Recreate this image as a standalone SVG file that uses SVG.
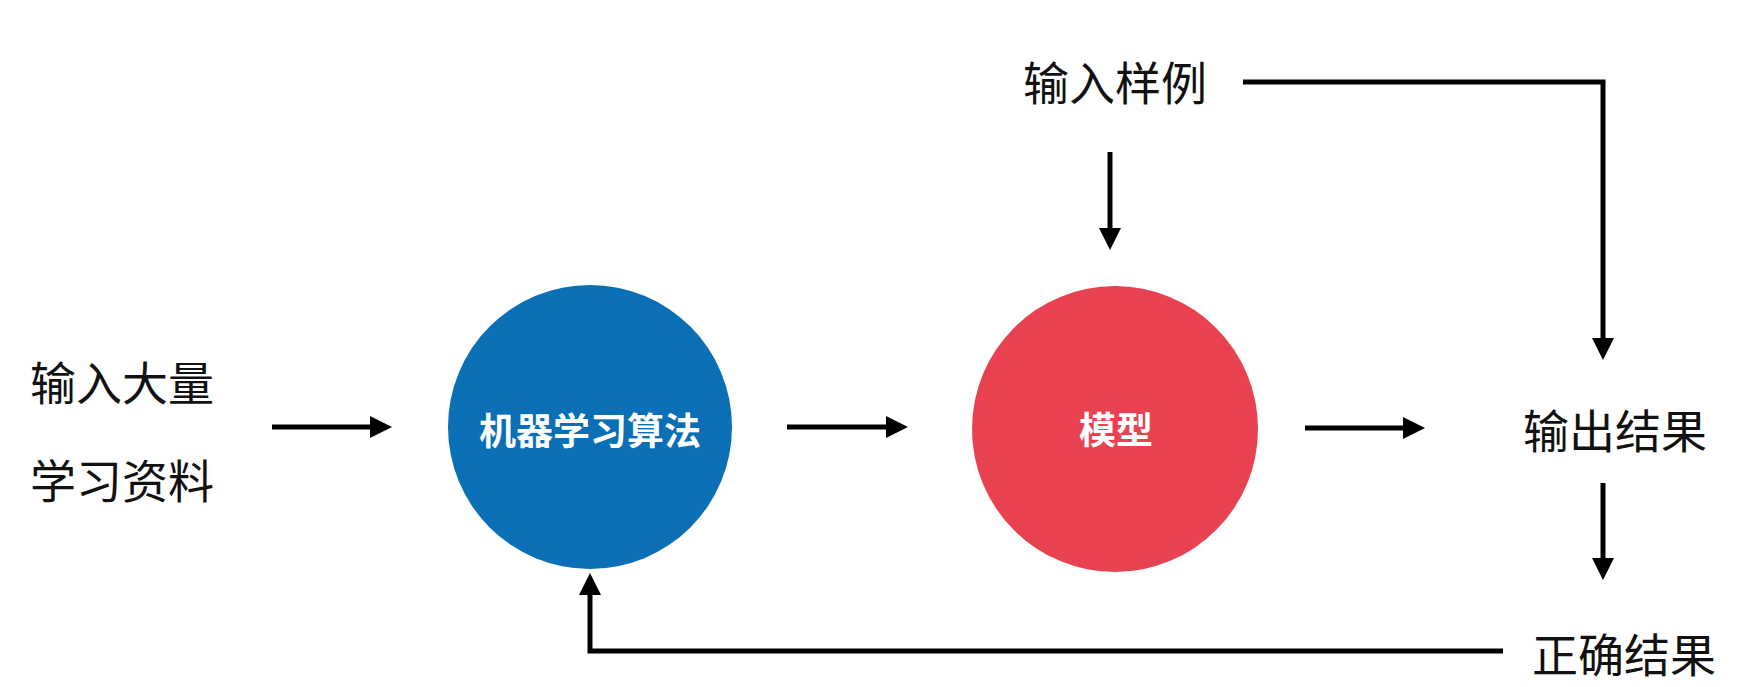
<svg xmlns="http://www.w3.org/2000/svg" width="1757" height="687" viewBox="0 0 1757 687">
<style>
.lbl{font-family:"Noto Sans CJK SC","Noto Sans",sans-serif;font-size:46px;fill:#111;text-anchor:middle;dominant-baseline:central}
.in{font-family:"Noto Sans CJK SC","Noto Sans",sans-serif;font-size:37px;font-weight:bold;fill:#fff;text-anchor:middle;dominant-baseline:central}
.ln{fill:none;stroke:#000;stroke-width:5;marker-end:url(#ah)}
</style>
<defs>
<marker id="ah" markerUnits="userSpaceOnUse" markerWidth="24" markerHeight="24" refX="12" refY="11" orient="auto">
<path d="M0,0 L22,11 L0,22 z" fill="#000"/>
</marker>
</defs>
<rect width="1757" height="687" fill="#fff"/>
<g id="input-data">
<text class="lbl" x="122" y="380">输入大量</text>
<text class="lbl" x="122" y="478">学习资料</text>
</g>
<g id="ml-algorithm">
<circle cx="590" cy="427" r="142" fill="#0A6FB4"/>
<text class="in" x="590" y="429">机器学习算法</text>
</g>
<g id="model">
<circle cx="1115" cy="429" r="143" fill="#E8414F"/>
<text class="in" x="1116" y="428">模型</text>
</g>
<g id="input-sample">
<text class="lbl" x="1115" y="80">输入样例</text>
</g>
<g id="output-result">
<text class="lbl" x="1615" y="428">输出结果</text>
</g>
<g id="correct-result">
<text class="lbl" x="1624" y="652">正确结果</text>
</g>
<g id="connectors">
<path class="ln" d="M272,427 H382"/>
<path class="ln" d="M787,427 H898"/>
<path class="ln" d="M1305,428 H1415"/>
<path class="ln" d="M1110,152 V240"/>
<path class="ln" d="M1243,82 H1603 V350"/>
<path class="ln" d="M1603,483 V570"/>
<path class="ln" d="M1503,651 H590 V583"/>
</g>
</svg>
